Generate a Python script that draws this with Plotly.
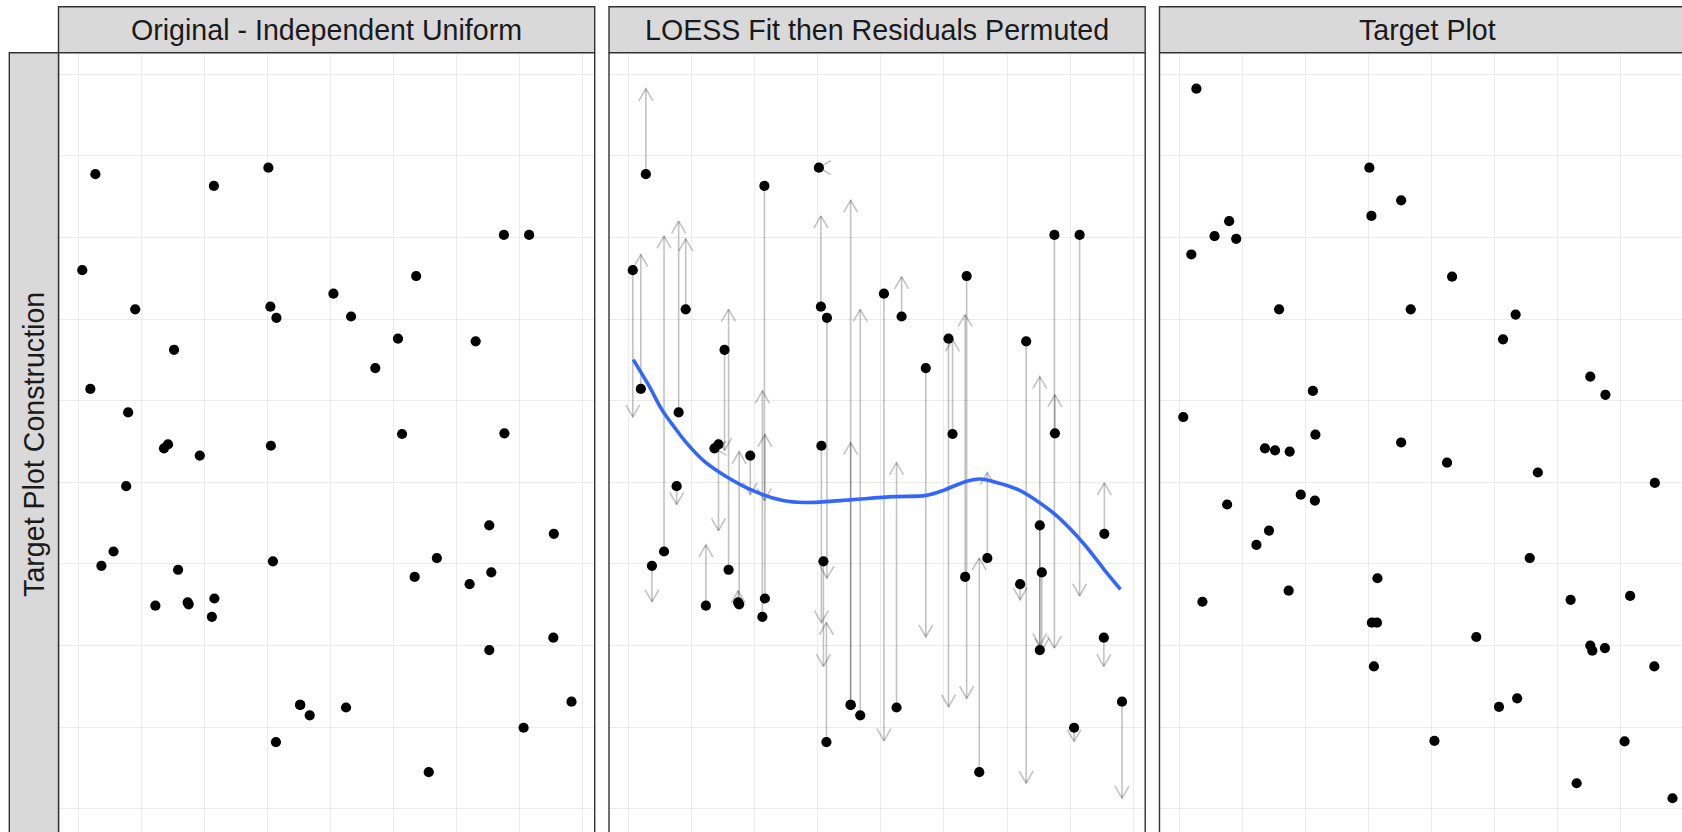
import math
import plotly.graph_objects as go

# ---- data -------------------------------------------------------------
# x position of every observation (shared by all three panels)
x_obs = [0.008, 0.024, 0.034, 0.046, 0.070, 0.095, 0.099, 0.113, 0.153, 0.170,
         0.178, 0.190, 0.198, 0.217, 0.219, 0.241, 0.265, 0.269, 0.270, 0.377,
         0.381, 0.382, 0.386, 0.392, 0.393, 0.440, 0.440, 0.459, 0.506, 0.531,
         0.541, 0.589, 0.634, 0.642, 0.667, 0.670, 0.695, 0.711, 0.776, 0.788,
         0.815, 0.815, 0.819, 0.844, 0.845, 0.883, 0.894, 0.942, 0.943, 0.978]

# original y values (independent uniform)
y_original = [0.825, 0.643, 0.972, 0.372, 0.394, 0.494, 0.607, 0.765, 0.311, 0.552,
              0.558, 0.703, 0.366, 0.316, 0.313, 0.541, 0.294, 0.954, 0.322, 0.982,
              0.769, 0.556, 0.379, 0.102, 0.752, 0.159, 0.159, 0.143, 0.789, 0.155,
              0.754, 0.675, 0.720, 0.574, 0.355, 0.816, 0.056, 0.384, 0.344, 0.716,
              0.434, 0.243, 0.362, 0.879, 0.575, 0.124, 0.879, 0.262, 0.421, 0.164]

# target y values (LOESS fit plus permuted residuals)
y_target = [0.600, 0.849, 1.103, 0.317, 0.877, 0.466, 0.900, 0.873, 0.404, 0.552,
            0.426, 0.549, 0.765, 0.334, 0.547, 0.481, 0.640, 0.472, 0.573, 0.982,
            0.908, 0.285, 0.218, 0.285, 0.353, 0.932, 0.561, 0.765, 0.104, 0.530,
            0.815, 0.263, 0.156, 0.719, 0.757, 0.169, 0.384, 0.515, 0.320, 0.039,
            0.250, 0.662, 0.242, 0.246, 0.634, 0.103, 0.326, 0.218, 0.499, 0.016]

# LOESS fit of the original data
loess_x = [0.009, 0.040, 0.066, 0.090, 0.115, 0.150, 0.193, 0.250, 0.306, 0.349,
           0.420, 0.526, 0.590, 0.625, 0.667, 0.696, 0.724, 0.774, 0.816, 0.851,
           0.901, 0.943, 0.975]
loess_y = [0.688, 0.648, 0.611, 0.585, 0.560, 0.532, 0.509, 0.486, 0.472, 0.469,
           0.472, 0.478, 0.480, 0.488, 0.501, 0.505, 0.501, 0.488, 0.468, 0.447,
           0.407, 0.366, 0.336]

panel_titles = ["Original - Independent Uniform",
                "LOESS Fit then Residuals Permuted",
                "Target Plot"]
row_title = "Target Plot Construction"

# ---- layout geometry (pixels) ----------------------------------------
W_FIG, H_FIG = 1682, 832
PANEL_W = 536.2
PANEL_GAP = 14.3
PANEL_LEFT0 = 58.5
PANEL_TOP = 52.7
STRIP_TOP = 6.7
LEFT_STRIP_X0 = 9.3
X_RANGE = [-0.0391, 1.0240]
Y_RANGE = [-0.0357, 1.1581]

STRIP_FILL = "#d9d9d9"
BORDER = "#333333"
GRID = "#ebebeb"
TEXT = "#1a1a1a"
FONT = "Liberation Sans, Arial, sans-serif"


def px_x(p):
    return p / W_FIG


def px_y(p):
    return 1 - p / H_FIG


panel_left = [PANEL_LEFT0 + i * (PANEL_W + PANEL_GAP) for i in range(3)]

fig = go.Figure()

ydom = [0, px_y(PANEL_TOP)]
for i, left in enumerate(panel_left):
    right = left + PANEL_W
    xr = list(X_RANGE)
    if right > W_FIG:
        xr[1] = X_RANGE[0] + (X_RANGE[1] - X_RANGE[0]) * (W_FIG - left) / PANEL_W
        right = W_FIG
    suffix = "" if i == 0 else str(i + 1)
    axis_common = dict(showgrid=True, gridcolor=GRID, gridwidth=1.4,
                       zeroline=False, showline=False, showticklabels=False,
                       ticks="", tick0=0, dtick=0.125, fixedrange=True)
    fig.layout["xaxis" + suffix] = dict(domain=[px_x(left), px_x(right)], range=xr,
                                        anchor="y" + suffix, **axis_common)
    fig.layout["yaxis" + suffix] = dict(domain=ydom, range=Y_RANGE,
                                        anchor="x" + suffix, **axis_common)

# pixels per data unit, used for arrow heads
ppx = PANEL_W / (X_RANGE[1] - X_RANGE[0])
ppy = (H_FIG - PANEL_TOP) / (Y_RANGE[1] - Y_RANGE[0])
HEAD_LEN = 14.0
HEAD_ANG = math.radians(30)

# ---- panel 2: arrows from original to target -------------------------
for xv, y0, y1 in zip(x_obs, y_original, y_target):
    dy_px = (y1 - y0) * ppy
    if abs(dy_px) < 0.5:
        dx_dir, dy_dir = -1.0, 0.0
    else:
        dx_dir, dy_dir = 0.0, math.copysign(1.0, dy_px)
    arms_x, arms_y = [], []
    for sgn in (1, -1):
        ang = math.atan2(dy_dir, dx_dir) + math.pi + sgn * HEAD_ANG
        arms_x.append(xv + HEAD_LEN * math.cos(ang) / ppx)
        arms_y.append(y1 + HEAD_LEN * math.sin(ang) / ppy)
    fig.add_trace(go.Scatter(
        x=[xv, xv, None, arms_x[0], xv, arms_x[1]],
        y=[y0, y1, None, arms_y[0], y1, arms_y[1]],
        mode="lines", xaxis="x2", yaxis="y2", hoverinfo="skip",
        line=dict(color="rgba(0,0,0,0.24)", width=1.6), showlegend=False))

fig.add_trace(go.Scatter(x=loess_x, y=loess_y, mode="lines", xaxis="x2", yaxis="y2",
                         line=dict(color="#3366FF", width=3.6, shape="spline"),
                         showlegend=False))

# ---- points ------------------------------------------------------------
marker = dict(color="black", size=10.2, line=dict(width=0))
fig.add_trace(go.Scatter(x=x_obs, y=y_original, mode="markers", marker=marker,
                         xaxis="x", yaxis="y", showlegend=False))
fig.add_trace(go.Scatter(x=x_obs, y=y_original, mode="markers", marker=marker,
                         xaxis="x2", yaxis="y2", showlegend=False))
fig.add_trace(go.Scatter(x=x_obs, y=y_target, mode="markers", marker=marker,
                         xaxis="x3", yaxis="y3", showlegend=False))

# ---- strips and panel borders -------------------------------------------
shapes = []
annotations = []
bottom_out = H_FIG + 40
for i, left in enumerate(panel_left):
    right = left + PANEL_W
    shapes.append(dict(type="rect", xref="paper", yref="paper",
                       x0=px_x(left), x1=px_x(right), y0=px_y(PANEL_TOP), y1=px_y(STRIP_TOP),
                       fillcolor=STRIP_FILL, line=dict(color=BORDER, width=1.4), layer="above"))
    for xx in (left, right):
        shapes.append(dict(type="line", xref="paper", yref="paper",
                           x0=px_x(xx), x1=px_x(xx), y0=px_y(PANEL_TOP), y1=px_y(bottom_out),
                           line=dict(color=BORDER, width=1.4), layer="above"))
    annotations.append(dict(text=panel_titles[i], xref="paper", yref="paper",
                            x=px_x(left + PANEL_W / 2), y=px_y((STRIP_TOP + PANEL_TOP) / 2),
                            xanchor="center", yanchor="middle", showarrow=False,
                            font=dict(family=FONT, size=28.6, color=TEXT)))

shapes.append(dict(type="rect", xref="paper", yref="paper",
                   x0=px_x(LEFT_STRIP_X0), x1=px_x(PANEL_LEFT0),
                   y0=px_y(bottom_out), y1=px_y(PANEL_TOP),
                   fillcolor=STRIP_FILL, line=dict(color=BORDER, width=1.4), layer="above"))
annotations.append(dict(text=row_title, xref="paper", yref="paper",
                        x=px_x((LEFT_STRIP_X0 + PANEL_LEFT0) / 2), y=px_y(444),
                        xanchor="center", yanchor="middle", textangle=-90, showarrow=False,
                        font=dict(family=FONT, size=28.6, color=TEXT)))

fig.update_layout(width=W_FIG, height=H_FIG, margin=dict(l=0, r=0, t=0, b=0),
                  paper_bgcolor="white", plot_bgcolor="white",
                  shapes=shapes, annotations=annotations, showlegend=False)

fig.write_html("out.html", config={"displayModeBar": False})
